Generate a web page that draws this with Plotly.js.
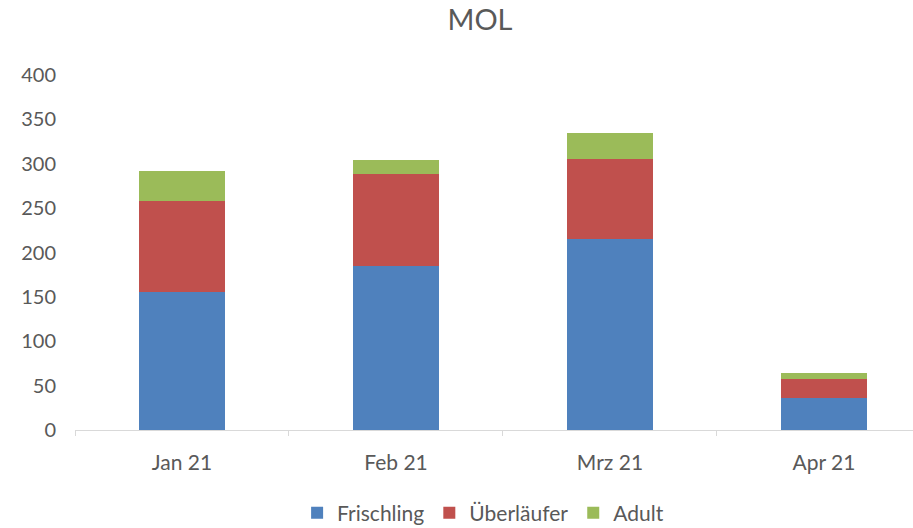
<!DOCTYPE html>
<html><head><meta charset="utf-8">
<script src="https://cdn.plot.ly/plotly-3.0.1.min.js"></script>
<style>body{margin:0;padding:0;background:#fff;}#c{width:913px;height:528px;}</style>
</head><body><div id="c"></div>
<script>
const categories = ["Jan 21", "Feb 21", "Mrz 21", "Apr 21"];
const frischling = [156, 185, 215, 36];
const ueberlaeufer = [102, 103, 90, 21];
const adult = [34, 16, 30, 7];

const font = {family: "Lato, 'Open Sans', sans-serif", color: "#595959"};
const traces = [
  {name: "Frischling", y: frischling, color: "#4F81BD"},
  {name: "Überläufer", y: ueberlaeufer, color: "#C0504D"},
  {name: "Adult", y: adult, color: "#9BBB59"}
].map(s => ({type: "bar", x: categories, y: s.y, name: s.name, marker: {color: s.color}, hoverinfo: "y+name"}));

Plotly.newPlot("c", traces, {
  width: 913, height: 528,
  barmode: "stack", bargap: 0.6,
  margin: {l: 75, r: 0, t: 75, b: 98, autoexpand: false},
  paper_bgcolor: "#fff", plot_bgcolor: "#fff",
  font: font,
  title: {text: "MOL", x: 0.4833, xref: "paper", xanchor: "center", y: 0.962, yanchor: "middle", font: {family: font.family, size: 29, color: "#595959"}},
  xaxis: {range: [-0.5, 3.416], showgrid: false, showline: true, linecolor: "#D9D9D9", linewidth: 1,
          ticks: "outside", tickson: "boundaries", ticklen: 5, tickcolor: "#D9D9D9", ticklabelstandoff: 14,
          tickfont: {size: 21, color: "#595959", family: font.family}},
  yaxis: {range: [0, 400], dtick: 50, showgrid: false, zeroline: false, showline: false,
          tickfont: {size: 20, color: "#595959", family: font.family}, ticks: "", ticklabelstandoff: 18},
  legend: {orientation: "h", x: 0.487, xanchor: "center", yref: "container", y: 0.028, yanchor: "middle",
           font: {size: 21, color: "#595959", family: font.family}, traceorder: "normal", itemwidth: 30}
}, {displayModeBar: false});
</script></body></html>
